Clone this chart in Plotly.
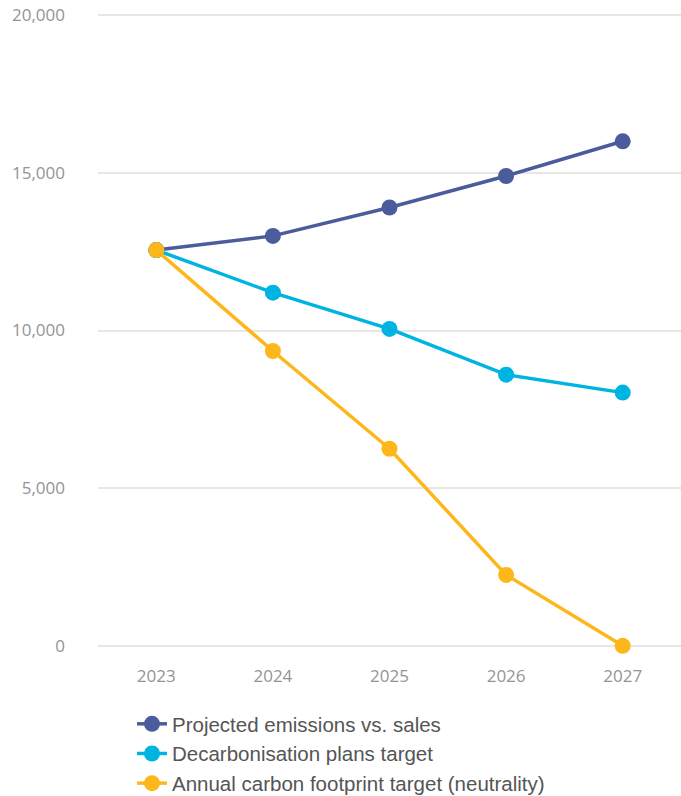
import plotly.graph_objects as go

years = ["2023", "2024", "2025", "2026", "2027"]
projected = [12550, 13000, 13900, 14900, 16000]
decarbonisation = [12550, 11200, 10050, 8600, 8030]
neutrality = [12550, 9350, 6250, 2250, 0]

series_names = [
    "Projected emissions vs. sales",
    "Decarbonisation plans target",
    "Annual carbon footprint target (neutrality)",
]
series_colors = ["#4B5C9C", "#00B4E1", "#FDB71A"]
series_values = [projected, decarbonisation, neutrality]

y_ticks = [0, 5000, 10000, 15000, 20000]

fig_w, fig_h = 681, 796

fig = go.Figure()
for i, (name, color, vals) in enumerate(zip(series_names, series_colors, series_values)):
    fig.add_trace(go.Scatter(
        x=years, y=vals, name=name, mode="lines+markers",
        line=dict(color=color, width=3.5),
        marker=dict(color=color, size=16),
        cliponaxis=False,
        legendgroup=f"g{i}",
    ))

fig.update_layout(
    width=fig_w, height=fig_h,
    margin=dict(l=98, r=0, t=12, b=147),
    plot_bgcolor="white", paper_bgcolor="white",
    showlegend=True,
    legend=dict(
        x=0.0583, xref="paper", xanchor="left",
        y=1 - 704 / fig_h, yref="container", yanchor="top",
        font=dict(family="Liberation Sans, Arial", size=20.5, color="#555555"),
        tracegroupgap=0, itemwidth=30,
    ),
    xaxis=dict(
        type="category", range=[-0.5, 4.5], showgrid=False, zeroline=False,
        showline=False,
        tickfont=dict(family="Open Sans", size=17, color="#949494"),
        ticklabelstandoff=15,
    ),
    yaxis=dict(
        range=[-100, 20100], tickvals=y_ticks, tickformat=",",
        showgrid=True, gridcolor="#e6e6e6", gridwidth=2, zeroline=False,
        showline=False, ticklabeloverflow="allow",
        tickfont=dict(family="Open Sans", size=17, color="#949494"),
        ticklabelstandoff=32,
    ),
)

fig.write_html(
    "out.html",
    config={"displayModeBar": False},
    post_script="document.body.style.margin='0';",
)
